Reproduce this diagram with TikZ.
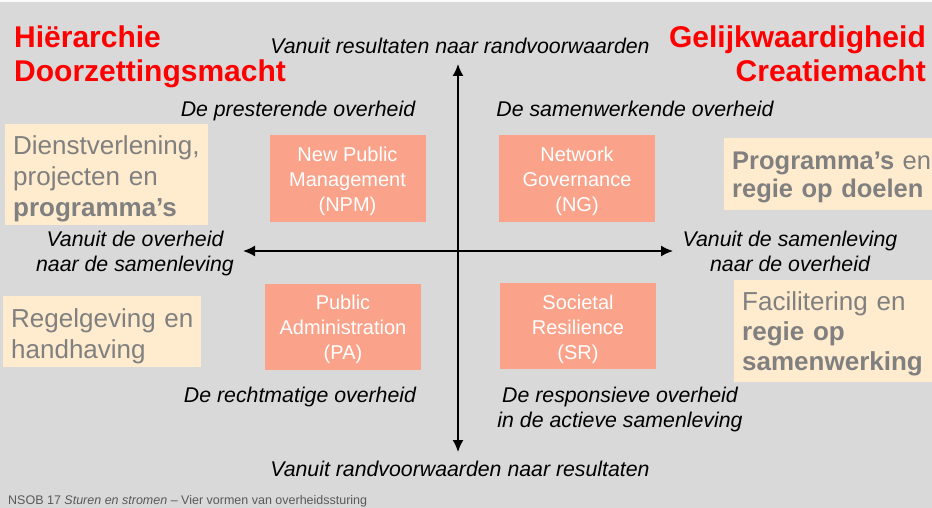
\documentclass[tikz,border=0pt]{standalone}
\usepackage{fontspec}
\setmainfont{Liberation Sans}
\usetikzlibrary{positioning, arrows.meta}
\definecolor{bggray}{HTML}{D9D9D9}
\definecolor{salmon}{HTML}{FAA38A}
\definecolor{cream}{HTML}{FFEBCD}
\definecolor{boxtext}{HTML}{808080}
\definecolor{titlered}{HTML}{FF0000}
\definecolor{footgray}{HTML}{595959}
\newcommand{\lift}[1]{\rule{0pt}{#1pt}}
\tikzstyle{title} = [font=\fontsize{30}{34}\selectfont\bfseries, text=titlered, inner sep=0pt]
\tikzstyle{axislabel} = [font=\fontsize{21.3}{25}\selectfont\itshape, inner sep=0pt, align=center, anchor=base]
\tikzstyle{quadrant} = [rectangle, fill=salmon, text=white, minimum width=156pt, minimum height=86pt, font=\fontsize{20}{25}\selectfont, align=center]
\tikzstyle{steering} = [rectangle, fill=cream, text=boxtext, font=\fontsize{26}{31}\selectfont, align=left, anchor=north west, inner xsep=8pt, inner ysep=0pt]
\tikzstyle{arrow} = [{Latex[length=12pt,width=11pt]}-{Latex[length=12pt,width=11pt]}, line width=1.6pt]

\begin{document}
\begin{tikzpicture}[x=1pt, y=-1pt]
  \useasboundingbox (0,0) rectangle (932,508);
  \fill[bggray] (0,0) rectangle (932,508);
  \fill[white!92!bggray] (0,0) rectangle (932,2.5);

  %titels
  \node (hier) [title, anchor=base west, align=left] at (14,82) {Hiërarchie\\Doorzettingsmacht};
  \node (gelijk) [title, anchor=base east, align=right] at (926,82) {Gelijkwaardigheid\\Creatiemacht};

  %assen
  \coordinate (ytop) at (458,64);
  \coordinate (ybot) at (458,452);
  \coordinate (xlft) at (243,251);
  \coordinate (xrgt) at (673,251);
  \draw [arrow](ybot) -- (ytop);
  \draw [arrow](xlft) -- (xrgt);

  %aslabels
  \node (top) [axislabel] at (460,54) {Vanuit resultaten naar randvoorwaarden};
  \node (bottom) [axislabel] at (460,476) {Vanuit randvoorwaarden naar resultaten};
  \node (left) [axislabel] at (135,271) {Vanuit de overheid\\naar de samenleving};
  \node (right) [axislabel] at (790,271) {Vanuit de samenleving\\naar de overheid};
  \node (prest) [axislabel] at (298,117) {De presterende overheid};
  \node (samen) [axislabel] at (635,117) {De samenwerkende overheid};
  \node (recht) [axislabel] at (300,402) {De rechtmatige overheid};
  \node (resp) [axislabel] at (620,427) {De responsieve overheid\\in de actieve samenleving};

  %vier vormen
  \node (npm) [quadrant] at (347.5,178.5) {\lift{21}New Public\\Management\\(NPM)};
  \node (ng) [quadrant] at (577,178.5) {\lift{21}Network\\Governance\\(NG)};
  \node (pa) [quadrant] at (343,326.5) {\lift{21}Public\\Administration\\(PA)};
  \node (sr) [quadrant] at (578,326) {\lift{21}Societal\\Resilience\\(SR)};

  %sturing
  \node (dienst) [steering, minimum width=203pt, text width=187pt, minimum height=101pt] at (5,124) {\mbox{\lift{28}Dienstverlening,}\\\mbox{projecten en}\\\mbox{\textbf{programma’s}}};
  \node (regel) [steering, minimum width=198pt, text width=182pt, minimum height=71pt] at (3,296) {\mbox{\lift{27}Regelgeving en}\\\mbox{handhaving}};
  \node (progr) [steering, minimum width=215pt, text width=199pt, minimum height=72pt, font=\fontsize{25.5}{28}\selectfont] at (724,138) {\mbox{\lift{25}\textbf{Programma’s} en}\\\mbox{\textbf{regie op doelen}}};
  \node (facil) [steering, minimum width=205pt, text width=189pt, minimum height=102pt, font=\fontsize{26}{30}\selectfont] at (734,280) {\mbox{\lift{24}Facilitering en}\\\mbox{\textbf{regie op}}\\\mbox{\textbf{samenwerking}}};

  \node (foot) [anchor=base west, inner sep=0pt, text=footgray, font=\fontsize{12.5}{14}\selectfont] at (8,504) {NSOB 17 \textit{Sturen en stromen} – Vier vormen van overheidssturing};
\end{tikzpicture}
\end{document}
